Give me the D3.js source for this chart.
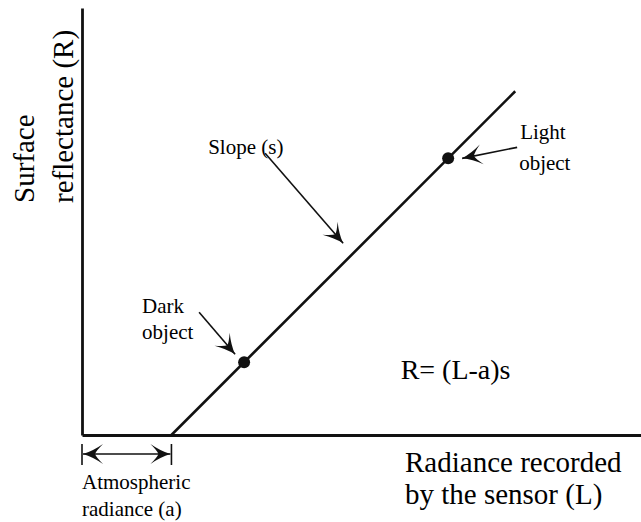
<!DOCTYPE html>
<html>
<head>
<meta charset="utf-8">
<script src="https://cdn.jsdelivr.net/npm/d3@7"></script>
<style>
  html, body { margin: 0; padding: 0; background: #fff; }
  svg { display: block; }
</style>
</head>
<body>
<svg id="chart" width="641" height="522"></svg>
<script>
// Dark-object subtraction model: R = (L - a) s
const atmosphericRadiance = 1.6;   // a, in radiance units
const slope = 1.0;                 // s
const lineEnd = 7.75;              // last radiance value drawn on the line
const objects = ["Dark object", "Light object"];
const objectRadiance = [2.9, 6.55];
const formulaText = "R= (L-a)s";

const FONT = "Liberation Serif";

const svg = d3.select("#chart");
const W = 641, H = 522;
const margin = { left: 82, top: 8, bottom: 87 };

const x = d3.scaleLinear().domain([0, 10]).range([margin.left, W]);
const y = d3.scaleLinear().domain([0, 7.64]).range([H - margin.bottom, margin.top]);
const reflect = L => (L - atmosphericRadiance) * slope;

// swept arrowhead
const defs = svg.append("defs");
defs.append("marker")
  .attr("id", "head")
  .attr("viewBox", "-22 -11 24 22")
  .attr("refX", 0).attr("refY", 0)
  .attr("markerWidth", 24).attr("markerHeight", 22)
  .attr("markerUnits", "userSpaceOnUse")
  .attr("orient", "auto-start-reverse")
  .append("path")
  .attr("d", "M0,0 Q-10,-3 -20,-10 Q-13,-3 -12,0 Q-13,3 -20,10 Q-10,3 0,0 Z")
  .attr("fill", "#111");

// axes (no ticks); drop the axis' own font settings since it carries no labels
const xAxis = d3.axisBottom(x).tickValues([]).tickSizeOuter(0);
const yAxis = d3.axisLeft(y).tickValues([]).tickSizeOuter(0);
const gx = svg.append("g").attr("transform", `translate(0,${y(0)})`).call(xAxis);
const gy = svg.append("g").attr("transform", `translate(${x(0)},0)`).call(yAxis);
[gx, gy].forEach(g => {
  g.attr("font-family", null).attr("font-size", null).attr("text-anchor", null);
  g.select(".domain").attr("stroke", "#111").attr("stroke-width", 2.8);
});

// regression line
const lineData = [atmosphericRadiance, lineEnd].map(L => ({ L, R: reflect(L) }));
svg.append("path")
  .datum(lineData)
  .attr("d", d3.line().x(d => x(d.L)).y(d => y(d.R)))
  .attr("fill", "none").attr("stroke", "#111").attr("stroke-width", 2.6);

// object points
const pts = objects.map((name, i) => ({ name, L: objectRadiance[i], R: reflect(objectRadiance[i]) }));
svg.selectAll("circle.obj").data(pts).join("circle")
  .attr("class", "obj")
  .attr("cx", d => x(d.L)).attr("cy", d => y(d.R))
  .attr("r", 6).attr("fill", "#111");

function arrow(x1, y1, x2, y2, w) {
  svg.append("line")
    .attr("x1", x1).attr("y1", y1).attr("x2", x2).attr("y2", y2)
    .attr("stroke", "#111").attr("stroke-width", w || 1.6)
    .attr("marker-end", "url(#head)");
}

// one line of text
function line(str, px, py, size, parent) {
  return (parent || svg).append("text")
    .attr("x", px).attr("y", py)
    .attr("font-size", size)
    .style("font-family", FONT)
    .text(str);
}

const labelFont = 21;

// Dark object annotation
{
  const p = pts[0];
  const px = x(p.L), py = y(p.R);
  arrow(px - 45, py - 50, px - 9, py - 8);
  line("Dark", px - 102, py - 49, labelFont);
  line("object", px - 102, py - 23, labelFont);
}

// Light object annotation
{
  const p = pts[1];
  const px = x(p.L), py = y(p.R);
  arrow(px + 69, py - 11, px + 14, py);
  line("Light", px + 72, py - 19, labelFont);
  line("object", px + 71, py + 12, labelFont);
}

// Slope annotation
{
  const L = 4.6;
  const px = x(L), py = y(reflect(L));
  arrow(px - 74, py - 114, px + 4, py - 24);
  line("Slope (s)", px - 131, py - 113, labelFont);
}

// formula
line(formulaText, x(5.7), y(1.0), 28);

// atmospheric radiance bracket
{
  const yy = y(0) + 19;
  const x0 = x(0), x1 = x(atmosphericRadiance);
  svg.append("line").attr("x1", x0 + 1).attr("x2", x1 - 1).attr("y1", yy).attr("y2", yy)
    .attr("stroke", "#111").attr("stroke-width", 1.3)
    .attr("marker-start", "url(#head)").attr("marker-end", "url(#head)");
  [x0, x1].forEach(xx => svg.append("line")
    .attr("x1", xx).attr("x2", xx).attr("y1", yy - 10).attr("y2", yy + 11)
    .attr("stroke", "#111").attr("stroke-width", 1.6));
  line("Atmospheric", x0, y(0) + 54, labelFont);
  line("radiance (a)", x0, y(0) + 81, labelFont);
}

// x axis title
line("Radiance recorded", 405, y(0) + 37, 29);
line("by the sensor (L)", 405, y(0) + 69, 29);

// y axis title
{
  const g = svg.append("g").attr("transform", "translate(0,203) rotate(-90)");
  line("Surface", 0, 34, 29, g);
  line("reflectance (R)", 0, 73, 29, g);
}
</script>
</body>
</html>
